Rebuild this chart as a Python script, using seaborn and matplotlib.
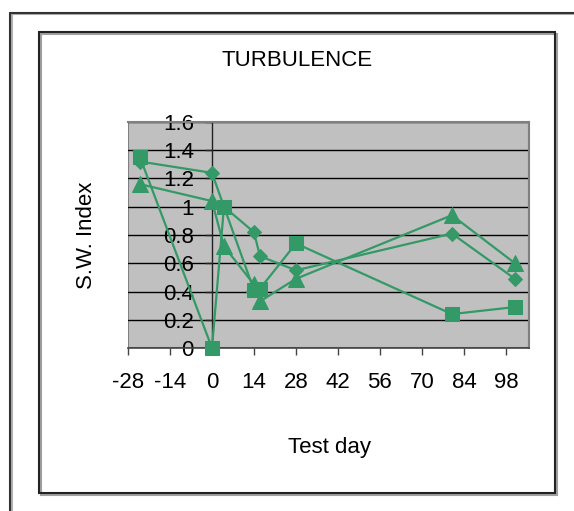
import matplotlib
matplotlib.use("Agg")
import matplotlib.pyplot as plt
from matplotlib.patches import Rectangle
from matplotlib.lines import Line2D
import pandas as pd
import seaborn as sns

# Test days and S.W. index readings for the three series
days = [-24, 0, 4, 14, 16, 28, 80, 101]
series_diamond = [1.32, 1.24, 1.00, 0.82, 0.65, 0.55, 0.81, 0.49]
series_square = [1.35, 0.00, 1.00, 0.41, 0.42, 0.74, 0.24, 0.29]
series_triangle = [1.16, 1.04, 0.72, 0.45, 0.33, 0.49, 0.94, 0.60]
x_ticks = [-28, -14, 0, 14, 28, 42, 56, 70, 84, 98]
y_ticks = [0, 0.2, 0.4, 0.6, 0.8, 1, 1.2, 1.4, 1.6]
y_tick_labels = ["0", "0.2", "0.4", "0.6", "0.8", "1", "1.2", "1.4", "1.6"]

sns.set_style("white")
plt.rcParams["font.family"] = ["Liberation Sans", "DejaVu Sans"]
plt.rcParams["axes.unicode_minus"] = False
plt.rcParams["text.color"] = "black"
plt.rcParams["xtick.color"] = "black"
plt.rcParams["ytick.color"] = "black"

GREEN = "#339966"
FS = 16

fig = plt.figure(figsize=(5.74, 5.11), dpi=100)
W, H = 574, 511

def fx(px):
    return px / W

def fy(py):
    return 1 - py / H

# Outer frame (left and top edges) with a soft shadow
for off, col, lw in [(1.5, "#b0b0b0", 1.5), (0, "#333333", 1.5)]:
    fig.add_artist(Line2D([fx(10 + off), fx(10 + off)], [fy(13 + off), 0],
                          color=col, lw=lw, transform=fig.transFigure))
    fig.add_artist(Line2D([fx(10 + off), 1], [fy(13 + off), fy(13 + off)],
                          color=col, lw=lw, transform=fig.transFigure))

# Chart area frame with shadow
fig.add_artist(Rectangle((fx(41), fy(495)), fx(516), 461 / H, fill=False,
                         edgecolor="#a0a0a0", lw=1.5, transform=fig.transFigure))
fig.add_artist(Rectangle((fx(39), fy(493)), fx(516), 461 / H, fill=False,
                         edgecolor="#222222", lw=1.5, transform=fig.transFigure))

ax = fig.add_axes([fx(128), fy(348), fx(401), 226 / H])
ax.set_facecolor("#C0C0C0")

df = pd.DataFrame({
    "day": days * 3,
    "value": series_diamond + series_square + series_triangle,
    "series": ["A"] * len(days) + ["B"] * len(days) + ["C"] * len(days),
})

for name, marker, ms in [("A", "D", 7.5), ("B", "s", 10.5), ("C", "^", 11)]:
    sub = df[df["series"] == name]
    sns.lineplot(data=sub, x="day", y="value", ax=ax, color=GREEN, lw=1.6,
                 marker=marker, markersize=ms, markeredgecolor=GREEN,
                 sort=False, estimator=None, legend=False, zorder=5,
                 clip_on=False)

ax.set_xlim(-28, 105.7)
ax.set_ylim(0, 1.6)

ax.set_yticks(y_ticks)
ax.set_yticklabels(y_tick_labels)
ax.set_xticks(x_ticks)
ax.yaxis.grid(True, color="black", lw=1)
ax.xaxis.grid(False)
ax.set_axisbelow(True)

# Value axis crosses at day 0
ax.spines["left"].set_position(("data", 0))
ax.spines["left"].set_color("#222222")
ax.spines["left"].set_linewidth(1)
ax.spines["bottom"].set_color("#444444")
ax.spines["bottom"].set_linewidth(1.2)
ax.spines["top"].set_color("#808080")
ax.spines["right"].set_color("#808080")
ax.spines["top"].set_linewidth(1.5)
ax.spines["right"].set_linewidth(1.5)
ax.add_patch(Rectangle((0, 0), 1, 1, transform=ax.transAxes, fill=False,
                       edgecolor="#808080", lw=1.5, zorder=0.5))

ax.tick_params(axis="y", direction="out", length=5, width=1, color="#222222",
               labelsize=FS, pad=8, left=True)
ax.tick_params(axis="x", direction="out", length=5, width=1, color="#444444",
               labelsize=FS, pad=12, bottom=True)

ax.set_xlabel("")
ax.set_ylabel("")
fig.text(fx(329), fy(447), "Test day", fontsize=FS, ha="center", va="center")
fig.text(fx(86), fy(235), "S.W. Index", rotation=90, fontsize=FS,
         ha="center", va="center")
fig.text(fx(297), fy(61), "TURBULENCE", fontsize=FS, ha="center", va="center")

fig.savefig("out.png", dpi=100)
